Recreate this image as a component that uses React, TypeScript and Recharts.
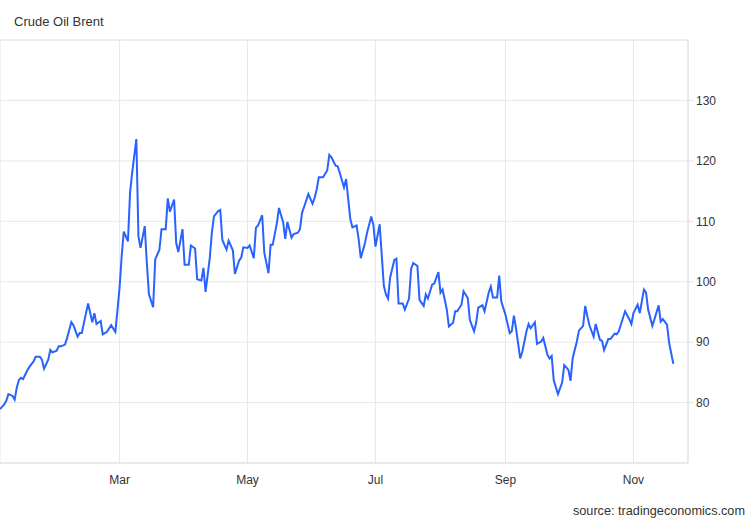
import React from 'react';
import { LineChart, Line, XAxis, YAxis, CartesianGrid, ReferenceLine } from 'recharts';

// Day of year 2022 (Jan 1 = 0) for each close
const dayOfYear = [
  2, 4, 5, 6, 8, 9, 10, 11, 12, 13, 15, 16, 18, 19, 21, 22, 23, 25, 26, 27, 29, 30, 31, 33, 34, 36, 37, 39, 40, 41,
  43, 44, 46, 47, 48, 50, 51, 53, 55, 57, 58, 59, 60, 61, 63, 64, 65, 67, 68, 69, 71, 72, 73, 75, 76, 78, 79, 81, 82, 83,
  85, 86, 87, 89, 90, 92, 93, 95, 96, 98, 99, 100, 102, 103, 104, 106, 107, 108, 110, 111, 113, 114, 116, 117, 118, 120, 121, 123, 124, 125,
  127, 128, 130, 131, 132, 134, 135, 137, 138, 139, 141, 142, 144, 145, 146, 147, 149, 151, 152, 153, 154, 156, 158, 159, 160, 162, 163, 164, 166, 167,
  169, 170, 172, 173, 174, 176, 177, 179, 180, 181, 183, 185, 186, 187, 188, 190, 191, 192, 194, 195, 197, 198, 199, 201, 202, 204, 205, 206, 208, 209,
  211, 212, 213, 215, 216, 218, 219, 220, 222, 223, 225, 226, 228, 229, 230, 232, 233, 235, 236, 237, 239, 240, 241, 243, 245, 246, 247, 248, 250, 251,
  253, 254, 255, 257, 258, 260, 261, 263, 264, 265, 266, 268, 270, 271, 273, 274, 275, 277, 278, 280, 281, 282, 283, 285, 286, 288, 289, 290, 292, 293,
  295, 296, 297, 299, 300, 302, 303, 304, 306, 307, 309, 310, 311, 313, 314, 316, 317, 318, 320, 321, 323,
];

// Brent close, USD/bbl
const brentClose = [
  78.9, 79.7, 80.3, 81.4, 81.1, 80.5, 82.5, 83.7, 84.1, 83.9, 85.3, 85.9, 86.8, 87.6, 87.6, 87.1, 85.6, 87.1, 88.7, 88.3, 88.6, 89.3, 89.3, 89.6, 90.7, 93.3, 92.8, 90.9, 91.5, 91.5,
  94.8, 96.4, 93.3, 94.8, 93.0, 93.5, 91.3, 91.7, 92.8, 91.7, 95.3, 99.0, 104.2, 108.3, 106.7, 114.7, 118.0, 123.6, 107.5, 105.6, 109.2, 103.1, 97.9, 95.8, 103.7, 105.3, 108.7, 108.7, 113.8, 111.6,
  113.6, 106.4, 104.9, 108.7, 102.8, 102.8, 106.0, 105.5, 100.4, 100.2, 102.3, 98.3, 103.9, 108.1, 110.8, 111.7, 111.9, 106.9, 105.3, 106.8, 105.2, 101.3, 103.5, 104.0, 105.7, 105.6, 106.0, 103.9, 108.9, 109.3,
  111.0, 104.8, 101.4, 106.1, 106.1, 109.7, 112.2, 109.8, 107.1, 109.9, 107.3, 107.9, 108.1, 108.7, 111.4, 112.4, 114.5, 112.9, 113.9, 115.3, 117.3, 117.3, 118.4, 121.0, 120.6, 119.2, 119.1, 118.0, 115.6, 117.0,
  110.4, 109.0, 109.3, 107.0, 103.9, 106.4, 108.1, 110.8, 109.4, 105.8, 109.5, 99.3, 97.9, 97.2, 100.7, 103.6, 103.8, 96.4, 96.4, 95.4, 97.2, 102.1, 103.1, 102.6, 97.0, 96.0, 97.9, 97.2, 99.5, 99.7,
  101.6, 98.2, 98.7, 95.4, 92.6, 93.2, 95.1, 95.1, 96.2, 98.4, 97.3, 93.7, 91.8, 93.2, 95.7, 96.1, 95.1, 98.2, 99.2, 97.4, 97.4, 101.0, 96.7, 94.5, 91.5, 91.8, 94.4, 92.3, 87.3, 88.4,
  91.8, 93.0, 92.3, 93.3, 89.7, 90.1, 90.7, 87.9, 87.3, 87.7, 83.7, 81.4, 83.3, 86.2, 85.4, 83.6, 87.3, 90.1, 91.9, 92.7, 96.0, 94.3, 92.8, 90.9, 93.0, 90.4, 90.2, 88.7, 90.5, 90.5,
  91.4, 91.3, 91.8, 94.0, 95.1, 93.8, 93.0, 94.8, 96.2, 94.8, 98.7, 98.2, 95.4, 92.7, 93.8, 96.1, 93.4, 93.8, 92.9, 89.9, 86.4,
];

const monthTicks = [59, 120, 181, 243, 304];
const monthLabels = ['Mar', 'May', 'Jul', 'Sep', 'Nov'];
const priceTicks = [80, 90, 100, 110, 120, 130];
const priceDomain = [70, 140];
const dayDomain = [2, 330];

const data = dayOfYear.map((d, i) => ({ d, v: brentClose[i] }));

const FONT = '"Liberation Sans", Arial, Helvetica, sans-serif';

export default function App() {
  return (
    <div
      style={{
        position: 'absolute',
        left: 0,
        top: 0,
        width: 750,
        height: 520,
        background: '#fff',
        fontFamily: FONT,
        overflow: 'hidden',
      }}
    >
      <div style={{ position: 'absolute', left: 14, top: 14, fontSize: 13, lineHeight: '15px', color: '#333' }}>
        Crude Oil Brent
      </div>
      <LineChart width={750} height={520} data={data} margin={{ top: 40, right: 0, left: 0, bottom: 0 }}>
        <CartesianGrid stroke="#e8e8e8" />
        <ReferenceLine y={140} stroke="#e8e8e8" />
        <XAxis
          dataKey="d"
          type="number"
          domain={dayDomain}
          ticks={monthTicks}
          tickFormatter={(t: number) => monthLabels[monthTicks.indexOf(t)] ?? ''}
          height={57}
          axisLine={{ stroke: '#e0e0e0' }}
          tickLine={false}
          tickMargin={6}
          tick={{ fill: '#333', fontSize: 12 }}
          allowDataOverflow
        />
        <YAxis
          orientation="right"
          width={62}
          domain={priceDomain}
          ticks={priceTicks}
          axisLine={{ stroke: '#e0e0e0' }}
          tickLine={{ stroke: '#e0e0e0' }}
          tickSize={5}
          tickMargin={3}
          tick={{ fill: '#333', fontSize: 12 }}
          allowDataOverflow
        />
        <Line
          type="linear"
          dataKey="v"
          stroke="#2962ff"
          strokeWidth={2}
          dot={false}
          isAnimationActive={false}
        />
      </LineChart>
      <div style={{ position: 'absolute', right: 5, top: 504, fontSize: 12.7, lineHeight: '15px', color: '#333' }}>
        source: tradingeconomics.com
      </div>
    </div>
  );
}
